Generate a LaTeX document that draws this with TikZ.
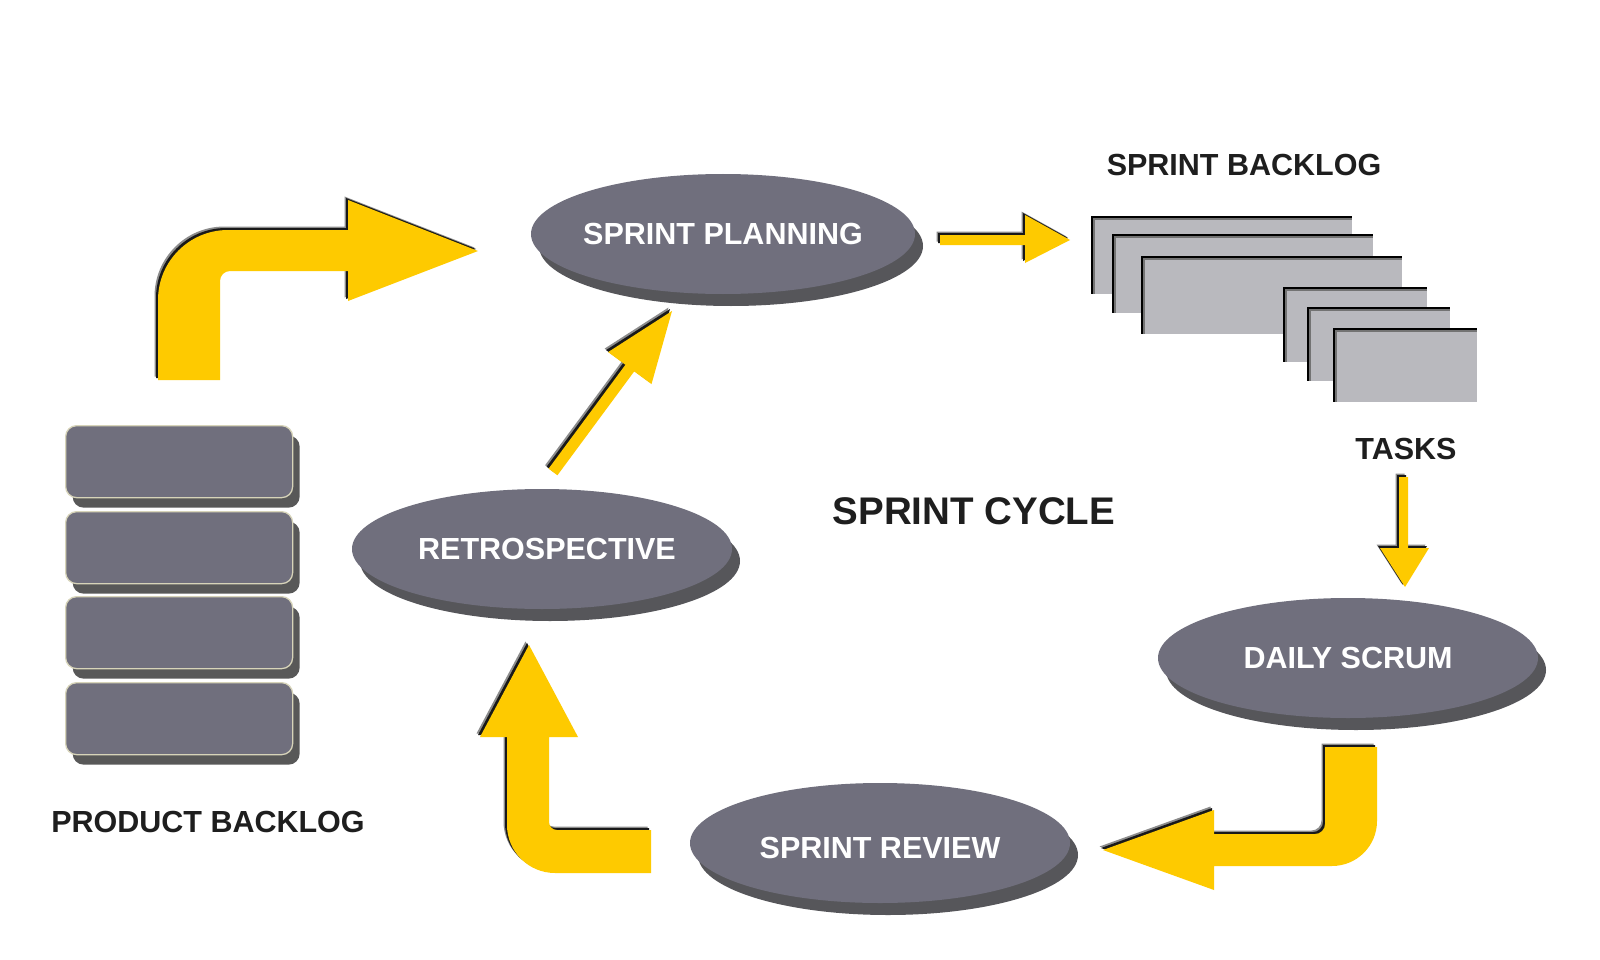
\documentclass[tikz,border=0pt]{standalone}
\usepackage{fontspec}
\setmainfont{Liberation Sans}
\usetikzlibrary{shapes.geometric,shadows}
\definecolor{ayellow}{RGB}{254,202,0}
\definecolor{ellgray}{RGB}{112,111,125}
\definecolor{ellshadow}{RGB}{86,86,90}
\definecolor{blockshadow}{RGB}{88,88,88}
\definecolor{blockedge}{RGB}{215,212,185}
\definecolor{taskgray}{RGB}{185,185,190}
\definecolor{labelink}{RGB}{30,30,30}
\tikzset{
  ell/.style={ellipse, fill=ellgray, minimum width=380pt, minimum height=120pt, inner sep=0pt,
    drop shadow={shadow xshift=8pt, shadow yshift=-12pt, fill=ellshadow, opacity=1}},
  ellt/.style={text=white, font=\bfseries\fontsize{30.5}{36}\selectfont, inner sep=0pt},
  lbl/.style={text=labelink, font=\bfseries\fontsize{30.5}{36}\selectfont, inner sep=0pt},
  pblock/.style={rectangle, rounded corners=11pt, fill=ellgray, draw=blockedge, line width=1.3pt,
    minimum width=227pt, minimum height=72pt, anchor=north west, inner sep=0pt,
    drop shadow={shadow xshift=7pt, shadow yshift=-10pt, fill=blockshadow, opacity=1}},
  taskbox/.style 2 args={rectangle, fill=taskgray, anchor=north west, inner sep=0pt,
    minimum width=#1pt, minimum height=#2pt,
    path picture={
      \draw[black!55, line width=8pt] (path picture bounding box.south west) -- (path picture bounding box.north west) -- (path picture bounding box.north east);
      \draw[black, line width=4pt] (path picture bounding box.south west) -- (path picture bounding box.north west) -- (path picture bounding box.north east);
    }},
  yfill/.style={fill=ayellow},
  yedgesoft/.style={fill=black!45, shift={(-3.5,-3.5)}},
  yedge/.style={fill=black!90, shift={(-2,-2)}},
}
\newcommand\arrowpathA{(158,380) -- (158,300) .. controls (158,261.3) and (189.3,230) .. (228,230) -- (348,230) -- (348,200) -- (478,251) -- (348,301) -- (348,271) -- (230,271) .. controls (224.5,271) and (220,275.5) .. (220,281) -- (220,380) -- cycle}
\newcommand\arrowpathB{(940,235) -- (1025,235) -- (1025,215) -- (1070,240) -- (1025,263) -- (1025,245) -- (940,245) -- cycle}
\newcommand\arrowpathC{(1399,477) -- (1408,477) -- (1408,548) -- (1429,548) -- (1405,587) -- (1380,548) -- (1399,548) -- cycle}
\newcommand\arrowpathD{(548.6,468.7) -- (625.4,364.8) -- (608.1,352.1) -- (672,311) -- (651.5,384.1) -- (634.2,371.4) -- (557.4,475.3) -- cycle}
\newcommand\arrowpathE{(651,830) -- (557,830) .. controls (552.6,830) and (549,826.4) .. (549,822) -- (549,737) -- (578,737) -- (529,645) -- (480,737) -- (507,737) -- (507,825) .. controls (507,851.5) and (528.5,873) .. (555,873) -- (651,873) -- cycle}
\newcommand\arrowpathF{(1325,747) -- (1377,747) -- (1377,821) .. controls (1377,845.9) and (1356.9,866) .. (1332,866) -- (1214,866) -- (1214,890) -- (1103,850) -- (1214,810) -- (1214,834) -- (1315,834) .. controls (1320.5,834) and (1325,829.5) .. (1325,824) -- cycle}
\newcommand\yarrow[1]{\fill[yedgesoft] #1; \fill[yedge] #1; \fill[yfill] #1;}
\begin{document}
\begin{tikzpicture}[x=1pt,y=-1pt]
\fill[white] (0,0) rectangle (1600,960);
\useasboundingbox (0,0) rectangle (1600,960);

% product backlog stack
\node[pblock] (pb1) at (65,425) {};
\node[pblock] (pb2) at (65,511) {};
\node[pblock] (pb3) at (65,596) {};
\node[pblock] (pb4) at (65,682) {};
\node[lbl] (pbl) at (208,822) {PRODUCT BACKLOG};

% sprint backlog task cards
\node[taskbox={261}{78}] (r1) at (1091,216) {};
\node[taskbox={261}{79}] (r2) at (1112,234) {};
\node[taskbox={261}{78}] (r3) at (1141,256) {};
\node[taskbox={144}{75}] (r4) at (1283,287) {};
\node[taskbox={143}{74}] (r5) at (1307,307) {};
\node[taskbox={144}{74}] (r6) at (1333,328) {};
\node[lbl] (sbl) at (1244,165) {SPRINT BACKLOG};
\node[lbl] (tasks) at (1406,449) {TASKS};

% ellipses
\node[ell, minimum width=384pt, label={[ellt]center:SPRINT PLANNING}] (plan) at (723,234) {};
\node[ell, label={[ellt, xshift=5pt]center:RETROSPECTIVE}] (retro) at (542,549) {};
\node[ell, label={[ellt]center:DAILY SCRUM}] (daily) at (1348,658) {};
\node[ell, label={[ellt, yshift=-5pt]center:SPRINT REVIEW}] (review) at (880,843) {};

\node[lbl, font=\bfseries\fontsize{38.5}{44}\selectfont] (cycle) at (974,511) {SPRINT CYCLE};

% yellow arrows
\yarrow{\arrowpathA}
\yarrow{\arrowpathB}
\yarrow{\arrowpathC}
\yarrow{\arrowpathD}
\yarrow{\arrowpathE}
\yarrow{\arrowpathF}
\end{tikzpicture}
\end{document}
